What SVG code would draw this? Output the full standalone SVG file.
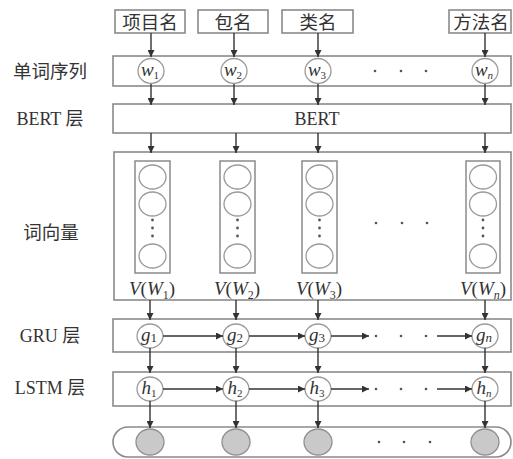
<svg xmlns="http://www.w3.org/2000/svg" width="513" height="459" viewBox="0 0 513 459">
<defs>
<marker id="ah" viewBox="0 0 8 8" refX="8" refY="4" markerWidth="7" markerHeight="7" markerUnits="userSpaceOnUse" orient="auto">
<path d="M0,0 L8,4 L0,8 z" fill="#333"/>
</marker>
<style>
.box{fill:#fff;stroke:#8a8a8a;stroke-width:1.6}
.vec{fill:none;stroke:#8a8a8a;stroke-width:1.5}
.cir{fill:#fff;stroke:#9a9a9a;stroke-width:1.3}
.grey{fill:#c9c9c9;stroke:#8f8f8f;stroke-width:1.3}
.arr{stroke:#333;stroke-width:1.4;fill:none;marker-end:url(#ah)}
.cjk{font-family:"Noto Sans CJK SC","Noto Sans CJK JP",sans-serif;font-size:18.5px;fill:#333}
.lbl{font-family:"Liberation Serif","Noto Sans CJK SC",serif;font-size:18px;fill:#333}
.m{font-family:"Liberation Serif",serif;font-size:19px;font-style:italic;fill:#333}
.dot{fill:#555}
</style>
</defs>
<rect width="513" height="459" fill="#fff"/>

<g id="labels">
<text class="cjk" x="50" y="78" text-anchor="middle">单词序列</text>
<text class="lbl" x="50" y="125" text-anchor="middle">BERT <tspan font-family="Noto Sans CJK SC,sans-serif" font-size="18">层</tspan></text>
<text class="cjk" x="51" y="239" text-anchor="middle">词向量</text>
<text class="lbl" x="50" y="342" text-anchor="middle">GRU <tspan font-family="Noto Sans CJK SC,sans-serif" font-size="18">层</tspan></text>
<text class="lbl" x="50" y="394" text-anchor="middle">LSTM <tspan font-family="Noto Sans CJK SC,sans-serif" font-size="18">层</tspan></text>
</g>

<g id="inputs">
<rect class="box" x="115" y="10" width="70" height="23"/>
<text class="cjk" x="150" y="28.5" text-anchor="middle">项目名</text>
<rect class="box" x="198" y="10" width="70" height="23"/>
<text class="cjk" x="233" y="28.5" text-anchor="middle">包名</text>
<rect class="box" x="282" y="10" width="71" height="23"/>
<text class="cjk" x="318" y="28.5" text-anchor="middle">类名</text>
<rect class="box" x="449" y="10" width="62" height="23"/>
<text class="cjk" x="481" y="28.5" text-anchor="middle">方法名</text>
</g>

<g id="word-seq">
<rect class="box" x="113" y="56" width="398" height="30"/>
<ellipse class="cir" cx="151" cy="71" rx="13" ry="12.5"/>
<text class="m" x="150" y="76" text-anchor="middle">w<tspan font-style="normal" font-size="11" dy="3">1</tspan></text>
<ellipse class="cir" cx="234" cy="71" rx="13" ry="12.5"/>
<text class="m" x="233" y="76" text-anchor="middle">w<tspan font-style="normal" font-size="11" dy="3">2</tspan></text>
<ellipse class="cir" cx="318" cy="71" rx="13" ry="12.5"/>
<text class="m" x="317" y="76" text-anchor="middle">w<tspan font-style="normal" font-size="11" dy="3">3</tspan></text>
<ellipse class="cir" cx="485" cy="71" rx="13" ry="12.5"/>
<text class="m" x="484" y="76" text-anchor="middle">w<tspan font-size="11" dy="3">n</tspan></text>
<circle class="dot" cx="375" cy="71" r="1.3"/>
<circle class="dot" cx="401" cy="71" r="1.3"/>
<circle class="dot" cx="426" cy="71" r="1.3"/>
</g>

<g id="bert">
<rect class="box" x="113" y="104" width="398" height="29"/>
<text class="lbl" x="317" y="125" text-anchor="middle" font-size="19">BERT</text>
</g>

<g id="word-vectors">
<rect class="box" x="114" y="152" width="397" height="148"/>
<g id="v1">
<rect class="vec" x="135" y="161" width="35" height="112"/>
<ellipse class="cir" cx="152.5" cy="177" rx="13.5" ry="12"/>
<ellipse class="cir" cx="152.5" cy="204" rx="13.5" ry="12"/>
<circle class="dot" cx="152.5" cy="220" r="1.4"/><circle class="dot" cx="152.5" cy="228" r="1.4"/><circle class="dot" cx="152.5" cy="236" r="1.4"/>
<ellipse class="cir" cx="152.5" cy="256" rx="13.5" ry="12"/>
<text class="m" x="152" y="295" text-anchor="middle" font-size="20">V<tspan font-style="normal">(</tspan>W<tspan font-style="normal" font-size="12" dy="4">1</tspan><tspan font-style="normal" dy="-4">)</tspan></text>
</g>
<g id="v2">
<rect class="vec" x="220" y="161" width="35" height="112"/>
<ellipse class="cir" cx="237.5" cy="177" rx="13.5" ry="12"/>
<ellipse class="cir" cx="237.5" cy="204" rx="13.5" ry="12"/>
<circle class="dot" cx="237.5" cy="220" r="1.4"/><circle class="dot" cx="237.5" cy="228" r="1.4"/><circle class="dot" cx="237.5" cy="236" r="1.4"/>
<ellipse class="cir" cx="237.5" cy="256" rx="13.5" ry="12"/>
<text class="m" x="237" y="295" text-anchor="middle" font-size="20">V<tspan font-style="normal">(</tspan>W<tspan font-style="normal" font-size="12" dy="4">2</tspan><tspan font-style="normal" dy="-4">)</tspan></text>
</g>
<g id="v3">
<rect class="vec" x="302" y="161" width="35" height="112"/>
<ellipse class="cir" cx="319.5" cy="177" rx="13.5" ry="12"/>
<ellipse class="cir" cx="319.5" cy="204" rx="13.5" ry="12"/>
<circle class="dot" cx="319.5" cy="220" r="1.4"/><circle class="dot" cx="319.5" cy="228" r="1.4"/><circle class="dot" cx="319.5" cy="236" r="1.4"/>
<ellipse class="cir" cx="319.5" cy="256" rx="13.5" ry="12"/>
<text class="m" x="319" y="295" text-anchor="middle" font-size="20">V<tspan font-style="normal">(</tspan>W<tspan font-style="normal" font-size="12" dy="4">3</tspan><tspan font-style="normal" dy="-4">)</tspan></text>
</g>
<g id="vn">
<rect class="vec" x="466" y="161" width="34" height="112"/>
<ellipse class="cir" cx="483" cy="177" rx="13.5" ry="12"/>
<ellipse class="cir" cx="483" cy="204" rx="13.5" ry="12"/>
<circle class="dot" cx="483" cy="220" r="1.4"/><circle class="dot" cx="483" cy="228" r="1.4"/><circle class="dot" cx="483" cy="236" r="1.4"/>
<ellipse class="cir" cx="483" cy="256" rx="13.5" ry="12"/>
<text class="m" x="483" y="295" text-anchor="middle" font-size="20">V<tspan font-style="normal">(</tspan>W<tspan font-size="12" dy="4">n</tspan><tspan font-style="normal" dy="-4">)</tspan></text>
</g>
<circle class="dot" cx="376" cy="223" r="1.3"/>
<circle class="dot" cx="402" cy="223" r="1.3"/>
<circle class="dot" cx="427" cy="223" r="1.3"/>
</g>

<g id="gru">
<rect class="box" x="113" y="319" width="398" height="33"/>
<ellipse class="cir" cx="150" cy="336" rx="13" ry="12"/>
<text class="m" x="149" y="341" text-anchor="middle">g<tspan font-style="normal" font-size="13" dy="1">1</tspan></text>
<ellipse class="cir" cx="236" cy="336" rx="13" ry="12"/>
<text class="m" x="235" y="341" text-anchor="middle">g<tspan font-style="normal" font-size="13" dy="1">2</tspan></text>
<ellipse class="cir" cx="318" cy="336" rx="13" ry="12"/>
<text class="m" x="317" y="341" text-anchor="middle">g<tspan font-style="normal" font-size="13" dy="1">3</tspan></text>
<ellipse class="cir" cx="485" cy="336" rx="13" ry="12"/>
<text class="m" x="484" y="341" text-anchor="middle">g<tspan font-size="13" dy="1">n</tspan></text>
<circle class="dot" cx="376" cy="336" r="1.3"/>
<circle class="dot" cx="401" cy="336" r="1.3"/>
<circle class="dot" cx="426" cy="336" r="1.3"/>
</g>

<g id="lstm">
<rect class="box" x="113" y="372" width="398" height="34"/>
<ellipse class="cir" cx="150" cy="389" rx="13" ry="12"/>
<text class="m" x="149" y="394" text-anchor="middle">h<tspan font-style="normal" font-size="11" dy="3">1</tspan></text>
<ellipse class="cir" cx="236" cy="389" rx="13" ry="12"/>
<text class="m" x="235" y="394" text-anchor="middle">h<tspan font-style="normal" font-size="11" dy="3">2</tspan></text>
<ellipse class="cir" cx="318" cy="389" rx="13" ry="12"/>
<text class="m" x="317" y="394" text-anchor="middle">h<tspan font-style="normal" font-size="11" dy="3">3</tspan></text>
<ellipse class="cir" cx="485" cy="389" rx="13" ry="12"/>
<text class="m" x="484" y="394" text-anchor="middle">h<tspan font-size="11" dy="3">n</tspan></text>
<circle class="dot" cx="376" cy="389" r="1.3"/>
<circle class="dot" cx="401" cy="389" r="1.3"/>
<circle class="dot" cx="426" cy="389" r="1.3"/>
</g>

<g id="output">
<rect class="box" x="113" y="427" width="398" height="30" rx="15" ry="15"/>
<ellipse class="grey" cx="150" cy="442" rx="14" ry="13"/>
<ellipse class="grey" cx="236" cy="442" rx="14" ry="13"/>
<ellipse class="grey" cx="318" cy="442" rx="14" ry="13"/>
<ellipse class="grey" cx="485" cy="442" rx="14" ry="13"/>
<circle class="dot" cx="379" cy="442" r="1.3"/>
<circle class="dot" cx="404" cy="442" r="1.3"/>
<circle class="dot" cx="430" cy="442" r="1.3"/>
</g>

<g id="connectors">
<line class="arr" x1="151" y1="33" x2="151" y2="57"/>
<line class="arr" x1="234" y1="33" x2="234" y2="57"/>
<line class="arr" x1="318" y1="33" x2="318" y2="57"/>
<line class="arr" x1="485" y1="33" x2="485" y2="57"/>
<line class="arr" x1="151" y1="84" x2="151" y2="105"/>
<line class="arr" x1="234" y1="84" x2="234" y2="105"/>
<line class="arr" x1="318" y1="84" x2="318" y2="105"/>
<line class="arr" x1="485" y1="84" x2="485" y2="105"/>
<line class="arr" x1="151" y1="133" x2="151" y2="153"/>
<line class="arr" x1="236" y1="133" x2="236" y2="153"/>
<line class="arr" x1="318" y1="133" x2="318" y2="153"/>
<line class="arr" x1="485" y1="133" x2="485" y2="153"/>
<line class="arr" x1="150" y1="300" x2="150" y2="320"/>
<line class="arr" x1="236" y1="300" x2="236" y2="320"/>
<line class="arr" x1="318" y1="300" x2="318" y2="320"/>
<line class="arr" x1="485" y1="300" x2="485" y2="320"/>
<line class="arr" x1="150" y1="348" x2="150" y2="373"/>
<line class="arr" x1="236" y1="348" x2="236" y2="373"/>
<line class="arr" x1="318" y1="348" x2="318" y2="373"/>
<line class="arr" x1="485" y1="348" x2="485" y2="373"/>
<line class="arr" x1="150" y1="401" x2="150" y2="428"/>
<line class="arr" x1="236" y1="401" x2="236" y2="428"/>
<line class="arr" x1="318" y1="401" x2="318" y2="428"/>
<line class="arr" x1="485" y1="401" x2="485" y2="428"/>
<line class="arr" x1="163" y1="336" x2="223" y2="336"/>
<line class="arr" x1="249" y1="336" x2="305" y2="336"/>
<line class="arr" x1="331" y1="336" x2="369" y2="336"/>
<line class="arr" x1="437" y1="336" x2="472" y2="336"/>
<line class="arr" x1="163" y1="389" x2="223" y2="389"/>
<line class="arr" x1="249" y1="389" x2="305" y2="389"/>
<line class="arr" x1="331" y1="389" x2="369" y2="389"/>
<line class="arr" x1="437" y1="389" x2="472" y2="389"/>
</g>
</svg>
